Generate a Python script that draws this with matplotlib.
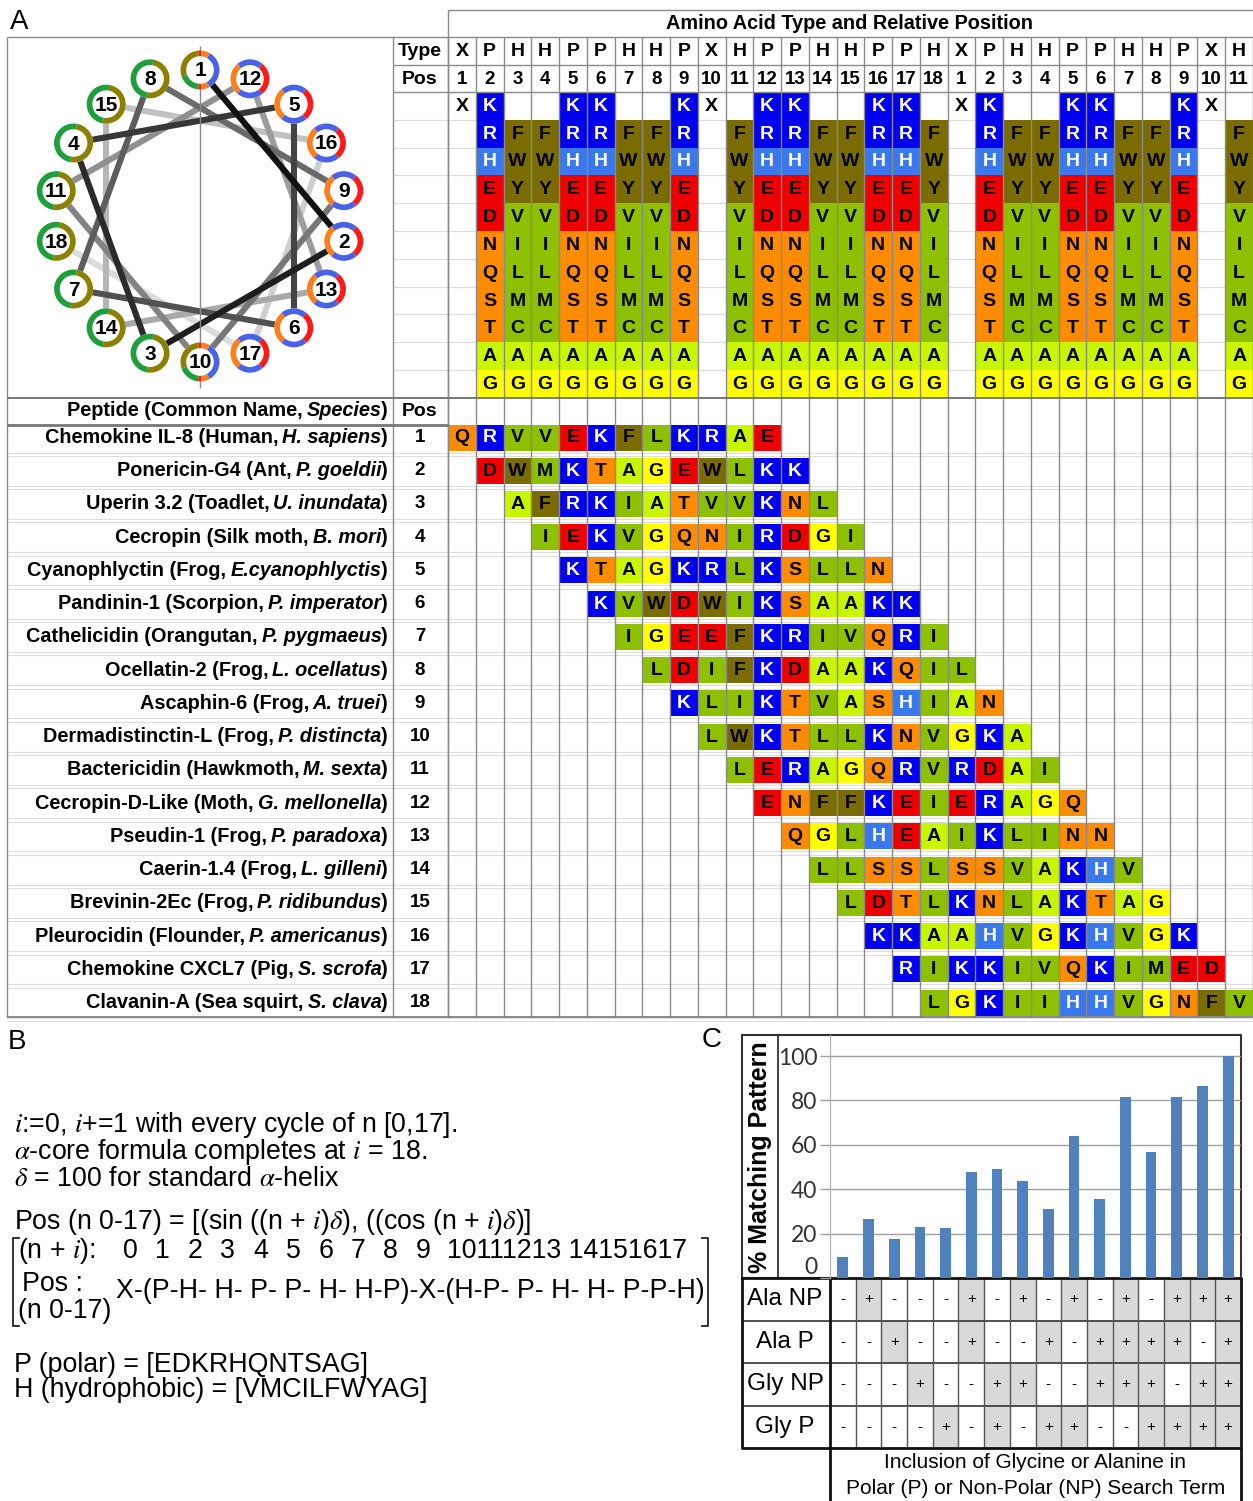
import numpy as np
import matplotlib
matplotlib.use('Agg')
import matplotlib.pyplot as plt
from matplotlib.patches import Rectangle, Wedge, Circle

plt.rcParams['font.family'] = ['Liberation Sans', 'DejaVu Sans']
plt.rcParams['mathtext.fontset'] = 'stix'

W, H = 1253, 1501

# ---------------- data ----------------
TYPE_ROW = list('XPHHPPHHPXHPPHHPPH') + list('XPHHPPHHPXH')
POS_ROW = list(range(1, 19)) + list(range(1, 12))
POLAR_SET = ['K', 'R', 'H', 'E', 'D', 'N', 'Q', 'S', 'T', 'A', 'G']
HYDRO_SET = ['', 'F', 'W', 'Y', 'V', 'I', 'L', 'M', 'C', 'A', 'G']
X_SET = ['X', '', '', '', '', '', '', '', '', '', '']

PEP_NAMES = ['Chemokine IL-8 (Human,', 'Ponericin-G4 (Ant,', 'Uperin 3.2 (Toadlet,',
             'Cecropin (Silk moth,', 'Cyanophlyctin (Frog,', 'Pandinin-1 (Scorpion,',
             'Cathelicidin (Orangutan,', 'Ocellatin-2 (Frog,', 'Ascaphin-6 (Frog,',
             'Dermadistinctin-L (Frog,', 'Bactericidin (Hawkmoth,', 'Cecropin-D-Like (Moth,',
             'Pseudin-1 (Frog,', 'Caerin-1.4 (Frog,', 'Brevinin-2Ec (Frog,',
             'Pleurocidin (Flounder,', 'Chemokine CXCL7 (Pig,', 'Clavanin-A (Sea squirt,']
PEP_SPECIES = ['H. sapiens', 'P. goeldii', 'U. inundata', 'B. mori', 'E.cyanophlyctis',
               'P. imperator', 'P. pygmaeus', 'L. ocellatus', 'A. truei', 'P. distincta',
               'M. sexta', 'G. mellonella', 'P. paradoxa', 'L. gilleni', 'P. ridibundus',
               'P. americanus', 'S. scrofa', 'S. clava']
PEP_SEQS = ['QRVVEKFLKRAE', 'DWMKTAGEWLKK', 'AFRKIATVVKNL', 'IEKVGQNIRDGI',
            'KTAGKRLKSLLN', 'KVWDWIKSAAKK', 'IGEEFKRIVQRI', 'LDIFKDAAKQIL',
            'KLIKTVASHIAN', 'LWKTLLKNVGKA', 'LERAGQRVRDAI', 'ENFFKEIERAGQ',
            'QGLHEAIKLINN', 'LLSSLSSVAKHV', 'LDTLKNLAKTAG', 'KKAAHVGKHVGK',
            'RIKKIVQKIMED', 'LGKIIHHVGNFV']

WHEEL_N = list(range(1, 19))
WHEEL_TYPE = TYPE_ROW[:18]

MATCH_PCT = [9.4, 26.4, 17.4, 23.2, 22.4, 47.9, 48.9, 43.5, 31.1, 63.9, 35.5, 81.7,
             57.0, 81.7, 86.4, 100]
TERM_LABELS = ['Ala NP', 'Ala P', 'Gly NP', 'Gly P']
TERM_ROWS = ['-+---+-+-+-+-+++',
             '--+--+--+-++++-+',
             '---+--++--+++-++',
             '----+-+-++--++++']

# ---------------- colours ----------------
AA_COLOR = {}
for a in 'KR':
    AA_COLOR[a] = '#0000ee'
AA_COLOR['H'] = '#3a78ee'
for a in 'ED':
    AA_COLOR[a] = '#ee0000'
for a in 'NQST':
    AA_COLOR[a] = '#ff8c00'
for a in 'FWY':
    AA_COLOR[a] = '#7a6c00'
for a in 'VILMC':
    AA_COLOR[a] = '#8cc000'
AA_COLOR['A'] = '#c8f500'
AA_COLOR['G'] = '#ffff00'
WHITE_TXT = set('KRH')

R_GREEN, R_OLIVE, R_ORANGE, R_BLUE, R_RED = '#1f9e3c', '#8b8000', '#ff7f1e', '#4a63e6', '#ff1a1a'
P_SEGS = [(-50, 50, R_RED), (50, 130, R_BLUE), (130, 230, R_ORANGE), (230, 310, R_BLUE)]
H_SEGS = [(-100, 80, R_OLIVE), (80, 260, R_GREEN)]
X_SEGS = [(85, 95, R_RED), (95, 200, R_OLIVE), (200, 265, R_GREEN), (265, 275, R_RED),
          (275, 300, R_ORANGE), (300, 420, R_BLUE), (60, 85, R_ORANGE)]

fig = plt.figure(figsize=(W / 100, H / 100), dpi=100)
ax = fig.add_axes([0, 0, 1, 1])
ax.set_xlim(0, W)
ax.set_ylim(H, 0)
ax.axis('off')
rend = fig.canvas.get_renderer()


def hline(y, x0, x1, c='#8a8a8a', lw=1.0, z=3):
    ax.plot([x0, x1], [y, y], color=c, lw=lw, zorder=z, solid_capstyle='butt')


def vline(x, y0, y1, c='#8a8a8a', lw=1.0, z=3):
    ax.plot([x, x], [y0, y1], color=c, lw=lw, zorder=z, solid_capstyle='butt')


def rich_right(x, y, parts, size):
    # parts drawn right to left, each (text, style, gap_px_after_left)
    for txt, style, gap in reversed(parts):
        t = ax.text(x, y, txt, ha='right', va='center', fontsize=size,
                    fontweight='bold', fontstyle=style, zorder=5)
        x -= t.get_window_extent(renderer=rend).width + gap


# ---------------- panel A ----------------
ax.text(10, 22, 'A', fontsize=20, va='center', ha='left')

gx0 = 448.0
cw = (W - gx0) / len(TYPE_ROW)
y_title, y_type, y_pos, y_aa, rh = 10, 37, 65, 92, 27.8
y_phead, y_pline, y_bot = 398, 425, 1017
pc0, prh, pch = 437.5, 33.24, 26

# title row
ax.text(850, 23.5, 'Amino Acid Type and Relative Position', ha='center', va='center',
        fontsize=14.3, fontweight='bold')
ax.text(420, 51, 'Type', ha='center', va='center', fontsize=14, fontweight='bold')
ax.text(420, 79, 'Pos', ha='center', va='center', fontsize=14, fontweight='bold')

for k, (tp, ps) in enumerate(zip(TYPE_ROW, POS_ROW)):
    xc = gx0 + (k + 0.5) * cw
    ax.text(xc, 51, tp, ha='center', va='center', fontsize=14, fontweight='bold')
    ax.text(xc, 79, str(ps), ha='center', va='center', fontsize=13.5, fontweight='bold')
    col_set = {'P': POLAR_SET, 'H': HYDRO_SET, 'X': X_SET}[tp]
    for j, aa in enumerate(col_set):
        if not aa:
            continue
        yc = y_aa + (j + 0.5) * rh
        if aa in AA_COLOR:
            ax.add_patch(Rectangle((gx0 + k * cw, y_aa + j * rh), cw, rh,
                                   facecolor=AA_COLOR[aa], edgecolor='none', zorder=2))
        ax.text(xc, yc + 0.5, aa, ha='center', va='center', fontsize=14, fontweight='bold',
                color='white' if aa in WHITE_TXT else 'black', zorder=4)

# faint spreadsheet lines in header block
for j in range(1, 11):
    hline(y_aa + j * rh, 393, W, c='#dcdcdc', lw=0.8, z=1)

# peptide header
rich_right(388, 411, [('Peptide (Common Name,', 'normal', 6), ('Species', 'italic', 4),
                      (')', 'normal', 0)], 14.3)
ax.text(420, 411, 'Pos', ha='center', va='center', fontsize=14, fontweight='bold')

for r, (nm, sp, seq) in enumerate(zip(PEP_NAMES, PEP_SPECIES, PEP_SEQS)):
    yc = pc0 + r * prh
    rich_right(388, yc, [(nm, 'normal', 6), (sp, 'italic', 4), (')', 'normal', 0)], 14.3)
    ax.text(420, yc, str(r + 1), ha='center', va='center', fontsize=13.5, fontweight='bold')
    for i, aa in enumerate(seq):
        k = r + i
        ax.add_patch(Rectangle((gx0 + k * cw, yc - pch / 2), cw, pch,
                               facecolor=AA_COLOR[aa], edgecolor='none', zorder=2))
        ax.text(gx0 + (k + 0.5) * cw, yc + 0.5, aa, ha='center', va='center', fontsize=14,
                fontweight='bold', color='white' if aa in WHITE_TXT else 'black', zorder=4)
    hline(yc + 15, 7, W, c='#dedede', lw=0.8, z=1)
    hline(yc + 18.5, 7, W, c='#dedede', lw=0.8, z=1)

# structural grid lines
for k in range(len(TYPE_ROW) + 1):
    vline(gx0 + k * cw, y_type, y_bot)
vline(gx0, y_title, y_bot)
vline(393, y_type, y_bot)
vline(7, y_type, y_bot)
hline(y_title, gx0, W)
hline(y_type, 7, W)
hline(y_pos, 393, W)
hline(y_aa, 393, W)
hline(y_phead, 7, W, c='#777777', lw=1.4)
hline(y_pline, 7, gx0, c='#777777', lw=2.0)
hline(y_bot, 7, W, c='#777777', lw=1.2)

# helical wheel
cx, cy, RW = 200, 216, 146
NODE_R, RING_W = 19.5, 5.7
ang = np.deg2rad((np.array(WHEEL_N) - 1) * 100.0)
nx = cx + RW * np.sin(ang)
ny = cy - RW * np.cos(ang)
greys = np.linspace(0.07, 0.86, len(WHEEL_N) - 1)
for k in range(len(WHEEL_N) - 2, -1, -1):
    g = greys[k]
    ax.plot(nx[k:k + 2], ny[k:k + 2], color=(g, g, g), lw=4.4, zorder=3 + (17 - k) * 0.01,
            solid_capstyle='butt')
vline(cx, 46, 388, c='#8a8a8a', lw=1.0, z=3.5)
for n, x, y, tp in zip(WHEEL_N, nx, ny, WHEEL_TYPE):
    ax.add_patch(Circle((x, y), NODE_R, facecolor='white', edgecolor='none', zorder=5))
    segs = {'P': P_SEGS, 'H': H_SEGS, 'X': X_SEGS}[tp]
    for a1, a2, col in segs:
        ax.add_patch(Wedge((x, y), NODE_R, -a2, -a1, width=RING_W, facecolor=col,
                           edgecolor='none', zorder=6))
    ax.text(x, y + 1, str(n), ha='center', va='center', fontsize=15, fontweight='bold',
            zorder=7)

# ---------------- panel B ----------------
ax.text(8, 1042, 'B', fontsize=20, va='center', ha='left')
fb = 19.3
ax.text(14, 1125, r'$i$:=0, $i$+=1 with every cycle of n [0,17].', fontsize=fb, va='center')
ax.text(14, 1152, r'$\alpha$-core formula completes at $i$ = 18.', fontsize=fb, va='center')
ax.text(14, 1179, r'$\delta$ = 100 for standard $\alpha$-helix', fontsize=fb, va='center')
ax.text(14, 1222, r'Pos (n 0-17) = [(sin ((n + $i$)$\delta$), ((cos (n + $i$)$\delta$)]',
        fontsize=fb, va='center')
ax.text(18, 1251, r'(n + $i$):', fontsize=fb, va='center')
for k in range(10):
    ax.text(130 + k * 32.6, 1251, str(k), fontsize=fb, va='center', ha='center')
ax.text(447, 1251, '10111213 14151617', fontsize=fb, va='center', ha='left')
ax.text(22, 1284, 'Pos :', fontsize=fb, va='center')
ax.text(18, 1311, '(n 0-17)', fontsize=fb, va='center')
ax.text(116, 1291, 'X-(P-H- H- P- P- H- H-P)-X-(H-P- P- H- H- P-P-H)', fontsize=fb,
        va='center')
ax.plot([19, 13, 13, 19], [1238, 1238, 1326, 1326], color='#222222', lw=1.3)
ax.plot([702, 708, 708, 702], [1238, 1238, 1326, 1326], color='#222222', lw=1.3)
ax.text(14, 1365, 'P (polar) = [EDKRHQNTSAG]', fontsize=fb, va='center')
ax.text(14, 1390, 'H (hydrophobic) = [VMCILFWYAG]', fontsize=fb, va='center')

# ---------------- panel C ----------------
ax.text(702, 1040, 'C', fontsize=20, va='center', ha='left')
cx0, cx1 = 830, 1241
ytop, ybase, ytab1 = 1035, 1278, 1448


def fax(x0, y0, x1, y1):
    return [x0 / W, 1 - y1 / H, (x1 - x0) / W, (y1 - y0) / H]


bx = fig.add_axes(fax(cx0, ytop, cx1, ybase))
bx.patch.set_alpha(0)
xs = np.arange(len(MATCH_PCT))
bx.bar(xs, MATCH_PCT, width=0.42, color='#4f81bd', zorder=3)
bx.set_xlim(-0.5, len(MATCH_PCT) - 0.5)
bx.set_ylim(0, 109.5)
bx.set_yticks(range(0, 101, 20))
bx.set_xticks([])
bx.yaxis.grid(True, color='#a0a0a0', lw=1.0, zorder=0)
for s in ['top', 'right', 'bottom']:
    bx.spines[s].set_visible(False)
bx.spines['left'].set_color('#b0b0b0')
bx.tick_params(axis='y', length=7, width=1, color='#a0a0a0', pad=2, labelsize=16.5,
               labelcolor='#333333')
for lab in bx.get_yticklabels():
    lab.set_fontfamily('Lato')
bx.get_yticklabels()[0].set_verticalalignment('bottom')

ax.text(760, 1157, '% Matching Pattern', rotation=90, ha='center', va='center',
        fontsize=18, fontweight='bold')

# frame around chart
ax.plot([742, cx1, cx1, 742, 742], [ytop, ytop, ybase, ybase, ytop], color='#333333', lw=1.5)
vline(778, ytop, ybase, c='#333333', lw=1.3)

# search-term table
tcw = (cx1 - cx0) / len(MATCH_PCT)
trh = (ytab1 - ybase) / len(TERM_LABELS)
for r, (lab, row) in enumerate(zip(TERM_LABELS, TERM_ROWS)):
    y0 = ybase + r * trh
    ax.text(785, y0 + trh / 2, lab, ha='center', va='center', fontsize=17.5)
    for k, ch in enumerate(row):
        if ch == '+':
            ax.add_patch(Rectangle((cx0 + k * tcw, y0), tcw, trh, facecolor='#d9d9d9',
                                   edgecolor='none', zorder=2))
        ax.text(cx0 + (k + 0.5) * tcw, y0 + trh / 2, ch, ha='center', va='center',
                fontsize=11, zorder=4)
    if r > 0:
        hline(y0, 742, cx1, c='#333333', lw=1.2, z=4)
for k in range(1, len(MATCH_PCT)):
    vline(cx0 + k * tcw, ybase, ytab1, c='#555555', lw=1.0, z=4)
vline(cx0, ybase, H, c='#111111', lw=2.0, z=5)
ax.plot([742, cx1, cx1, 742, 742], [ybase, ybase, ytab1, ytab1, ybase], color='#111111',
        lw=2.0, zorder=5)
vline(cx1, ytab1, H, c='#111111', lw=2.0, z=5)
ax.text((cx0 + cx1) / 2, 1463, 'Inclusion of Glycine or Alanine in', ha='center',
        va='center', fontsize=15)
ax.text((cx0 + cx1) / 2, 1489, 'Polar (P) or Non-Polar (NP) Search Term', ha='center',
        va='center', fontsize=15)

fig.savefig('out.png', dpi=100)
